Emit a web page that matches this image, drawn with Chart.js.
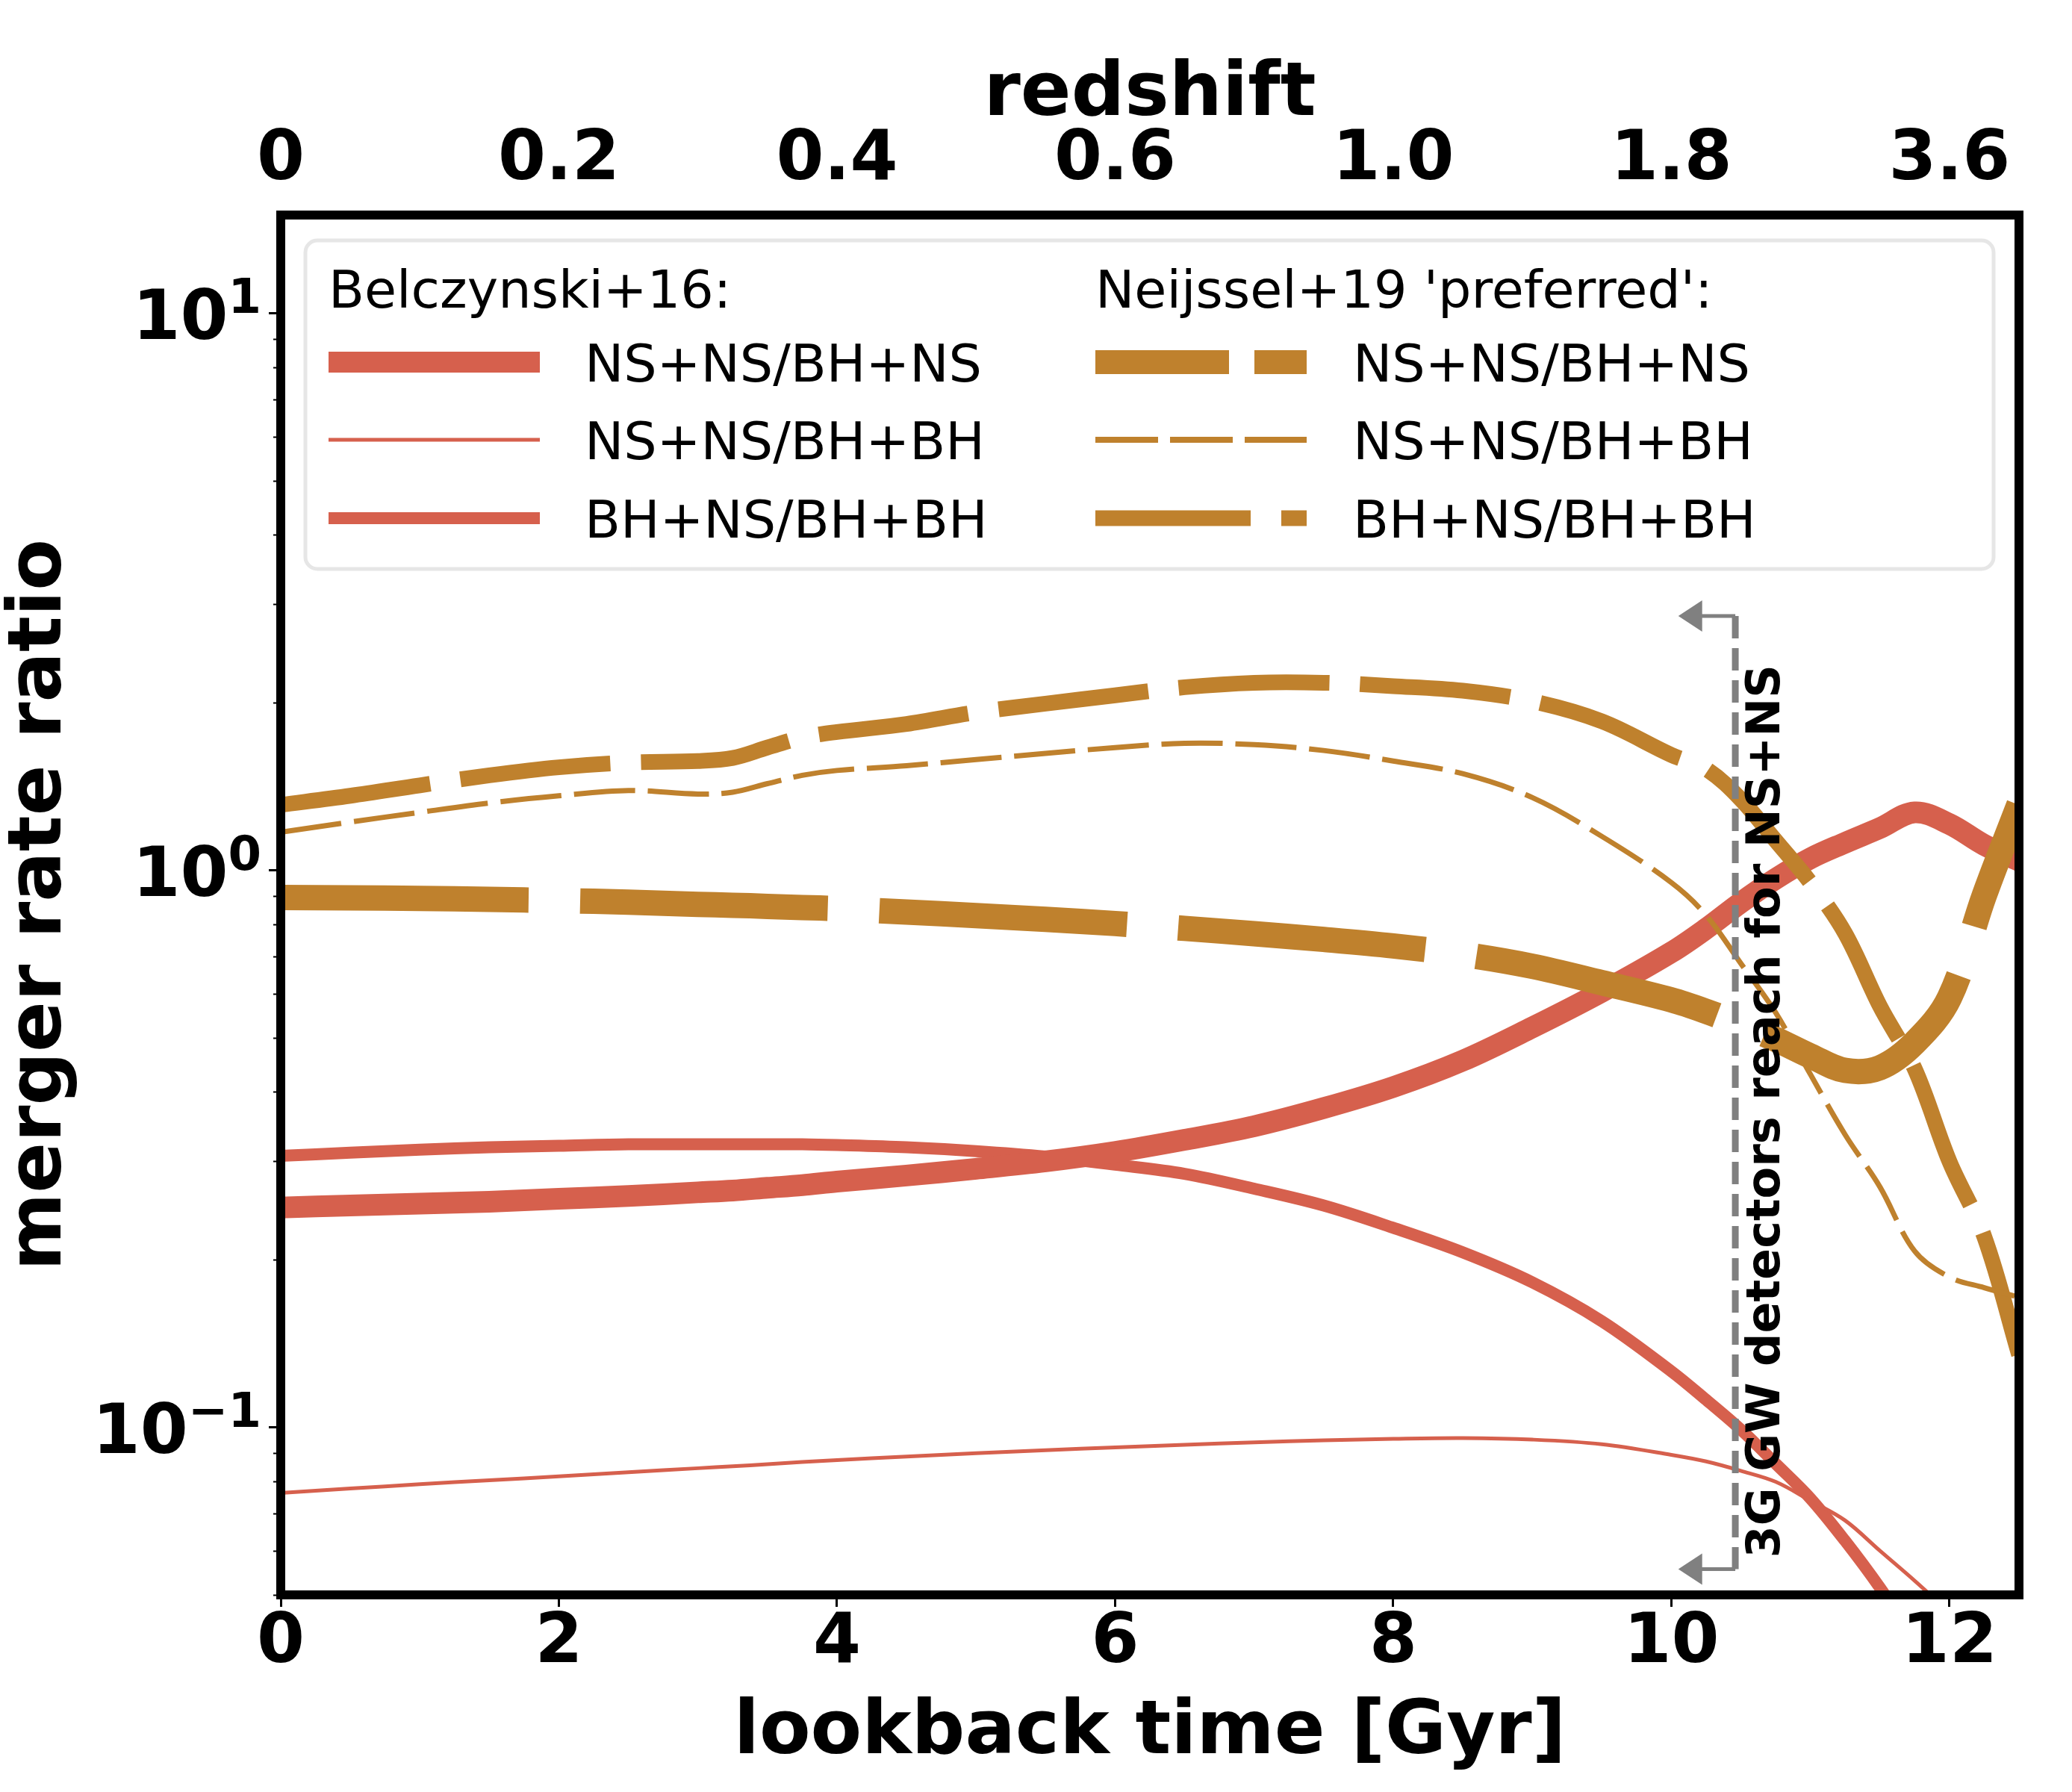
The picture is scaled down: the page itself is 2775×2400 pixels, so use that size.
<!DOCTYPE html>
<html>
<head>
<meta charset="utf-8">
<script src="https://cdn.jsdelivr.net/npm/chart.js@4.4.1/dist/chart.umd.min.js"></script>
<style>
  html, body { margin: 0; padding: 0; background: #fff; }
  #wrap { width: 2775px; height: 2400px; }
</style>
</head>
<body>
<div id="wrap"><canvas id="chart" width="2775" height="2400"></canvas></div>
<script>
// lookback time [Gyr]
const lookback = [0, 0.5, 1, 1.5, 2, 2.5, 3, 3.25, 3.5, 3.75, 4, 4.5, 5, 5.5, 6, 6.5, 7, 7.5, 8, 8.5, 9, 9.5, 10,
  10.25, 10.5, 10.75, 11, 11.25, 11.5, 11.75, 12, 12.25, 12.5];

// Belczynski+16 ratios
const belcNsnsBhns = [0.248, 0.250, 0.252, 0.254, 0.257, 0.260, 0.264, 0.266, 0.269, 0.272, 0.276, 0.283, 0.291, 0.300,
  0.312, 0.328, 0.347, 0.374, 0.408, 0.455, 0.522, 0.605, 0.712, 0.785, 0.875, 0.965, 1.05, 1.12, 1.19, 1.27, 1.21, 1.11, 1.04];
const belcNsnsBhbh = [0.0762, 0.0776, 0.0790, 0.0803, 0.0816, 0.0830, 0.0844, 0.0851, 0.0858, 0.0866, 0.0873, 0.0886,
  0.0898, 0.0909, 0.0920, 0.0930, 0.0939, 0.0947, 0.0953, 0.0956, 0.0950, 0.0932, 0.0892, 0.0868, 0.0835, 0.0798,
  0.0738, 0.0680, 0.0600, 0.0530, 0.0465, null, null];
const belcBhnsBhbh = [0.307, 0.311, 0.315, 0.318, 0.320, 0.322, 0.322, 0.322, 0.322, 0.322, 0.321, 0.318, 0.313, 0.306,
  0.296, 0.285, 0.268, 0.250, 0.228, 0.206, 0.182, 0.155, 0.126, 0.112, 0.099, 0.086, 0.0745, 0.0625, 0.0515, 0.0415,
  null, null, null];

// Neijssel+19 'preferred' ratios
const neijNsnsBhns = [0.893, 0.892, 0.890, 0.886, 0.882, 0.876, 0.868, 0.865, 0.861, 0.857, 0.853, 0.841, 0.829, 0.816,
  0.802, 0.786, 0.769, 0.751, 0.731, 0.706, 0.672, 0.628, 0.585, 0.558, 0.528, 0.497, 0.464, 0.437, 0.442, 0.490,
  0.590, 0.90, 1.31];
const neijNsnsBhbh = [1.17, 1.22, 1.27, 1.32, 1.36, 1.39, 1.37, 1.38, 1.43, 1.48, 1.51, 1.54, 1.58, 1.62, 1.66, 1.69,
  1.68, 1.64, 1.57, 1.49, 1.35, 1.15, 0.95, 0.83, 0.68, 0.555, 0.43, 0.335, 0.27, 0.207, 0.186, 0.178, 0.171];
const neijBhnsBhbh = [1.31, 1.36, 1.42, 1.48, 1.53, 1.56, 1.57, 1.59, 1.66, 1.73, 1.77, 1.83, 1.92, 1.99, 2.06, 2.13,
  2.17, 2.17, 2.14, 2.10, 2.01, 1.85, 1.61, 1.52, 1.34, 1.13, 0.95, 0.77, 0.57, 0.44, 0.30, 0.22, 0.135];

// axis ticks
const bottomTicks = [0, 2, 4, 6, 8, 10, 12];
const redshiftLabels = ['0', '0.2', '0.4', '0.6', '1.0', '1.8', '3.6'];
const yDecades = [0.1, 1, 10];

const RED = '#d6604d';
const GOLD = '#bf812d';
const FONT = '"DejaVu Sans"';

// 3G detector reach marker (lookback time, ratio)
const reachTime = 10.46;
const reachArrowTip = 10.05;
const reachTop = 2.86;
const reachBottom = 0.0556;
const reachText = '3G GW detectors reach for NS+NS';

const legendCols = [
  { title: 'Belczynski+16:', rows: [
    { label: 'NS+NS/BH+NS', color: RED, width: 28, dash: [] },
    { label: 'NS+NS/BH+BH', color: RED, width: 5, dash: [] },
    { label: 'BH+NS/BH+BH', color: RED, width: 16, dash: [] }
  ]},
  { title: "Neijssel+19 'preferred':", rows: [
    { label: 'NS+NS/BH+NS', color: GOLD, width: 32, dash: [179, 34] },
    { label: 'NS+NS/BH+BH', color: GOLD, width: 8, dash: [84, 16] },
    { label: 'BH+NS/BH+BH', color: GOLD, width: 21, dash: [208, 41, 34, 41] }
  ]}
];

function pts(vals) {
  return lookback.map((x, i) => ({ x: x, y: vals[i] }));
}

function line(label, vals, color, width, dash, order) {
  return {
    label: label,
    data: pts(vals),
    borderColor: color,
    borderWidth: width,
    borderDash: dash,
    borderCapStyle: 'butt',
    borderJoinStyle: 'round',
    pointRadius: 0,
    tension: 0.35,
    fill: false,
    clip: 0,
    order: order,
    xAxisID: 'x',
    yAxisID: 'y'
  };
}

const datasets = [
  line('Neijssel NS+NS/BH+NS', neijNsnsBhns, GOLD, 34, [332, 69], 0),
  line('Neijssel NS+NS/BH+BH', neijNsnsBhbh, GOLD, 7, [82, 17], 0),
  line('Neijssel BH+NS/BH+BH', neijBhnsBhbh, GOLD, 21, [202, 41], 0),
  line('Belczynski NS+NS/BH+NS', belcNsnsBhns, RED, 29, [], 1),
  line('Belczynski NS+NS/BH+BH', belcNsnsBhbh, RED, 5, [], 1),
  line('Belczynski BH+NS/BH+BH', belcBhnsBhbh, RED, 16, [], 1)
];

const decor = {
  id: 'decor',
  afterDatasetsDraw(chart) {
    const { ctx, scales } = chart;
    const xs = scales.x, ys = scales.y;

    // detector reach marker
    const px = xs.getPixelForValue(reachTime);
    const tip = xs.getPixelForValue(reachArrowTip);
    const yTop = ys.getPixelForValue(reachTop);
    const yBot = ys.getPixelForValue(reachBottom);
    ctx.save();
    ctx.strokeStyle = '#808080';
    ctx.fillStyle = '#808080';
    ctx.lineWidth = 9;
    ctx.setLineDash([30, 13]);
    ctx.beginPath();
    ctx.moveTo(px, yTop);
    ctx.lineTo(px, yBot);
    ctx.stroke();
    ctx.setLineDash([]);
    ctx.lineWidth = 5;
    [yTop, yBot].forEach(yy => {
      ctx.beginPath();
      ctx.moveTo(px, yy);
      ctx.lineTo(tip + 28, yy);
      ctx.stroke();
      ctx.beginPath();
      ctx.moveTo(tip, yy);
      ctx.lineTo(tip + 32, yy - 21);
      ctx.lineTo(tip + 32, yy + 21);
      ctx.closePath();
      ctx.fill();
    });
    ctx.fillStyle = '#000';
    ctx.font = 'bold 62px ' + FONT;
    ctx.textAlign = 'center';
    ctx.textBaseline = 'alphabetic';
    ctx.translate(px + 59, (yTop + yBot) / 2 + 25);
    ctx.rotate(-Math.PI / 2);
    ctx.fillText(reachText, 0, 0);
    ctx.restore();
  },
  afterDraw(chart) {
    const { ctx, chartArea: a, scales } = chart;
    const ys = scales.y;
    ctx.save();

    // frame
    ctx.strokeStyle = '#000';
    ctx.lineWidth = 12;
    ctx.strokeRect(a.left, a.top, a.right - a.left, a.bottom - a.top);

    // minor log ticks
    ctx.lineWidth = 2;
    for (let e = -2; e <= 1; e++) {
      for (let m = 2; m <= 9; m++) {
        const v = m * Math.pow(10, e);
        if (v < ys.min || v > ys.max) continue;
        const py = Math.round(ys.getPixelForValue(v)) + 0.5;
        ctx.beginPath();
        ctx.moveTo(a.left, py);
        ctx.lineTo(a.left - 10, py);
        ctx.stroke();
      }
    }

    // y tick labels 10^n
    ctx.fillStyle = '#000';
    ctx.textAlign = 'right';
    ctx.textBaseline = 'alphabetic';
    const labelRight = a.left - 26;
    yDecades.forEach(v => {
      const py = ys.getPixelForValue(v);
      const exp = Math.round(Math.log10(v));
      const sup = exp < 0 ? '\u2212' + (-exp) : String(exp);
      ctx.font = 'bold 64px ' + FONT;
      const sw = ctx.measureText(sup).width;
      ctx.fillText(sup, labelRight, py);
      ctx.font = 'bold 92px ' + FONT;
      ctx.fillText('10', labelRight - sw, py + 35);
    });

    // legend
    const lx = a.left + 33, ly = a.top + 34, lw = a.right - a.left - 67, lh = 440;
    ctx.beginPath();
    ctx.roundRect(lx, ly, lw, lh, 16);
    ctx.fillStyle = 'rgba(255,255,255,0.8)';
    ctx.fill();
    ctx.strokeStyle = '#e6e6e6';
    ctx.lineWidth = 5;
    ctx.stroke();

    const colX = [a.left + 64, a.left + 1091];
    const textX = [a.left + 407, a.left + 1436];
    const rowY = [a.top + 197, a.top + 301, a.top + 406];
    ctx.textAlign = 'left';
    ctx.font = '70px ' + FONT;
    legendCols.forEach((col, c) => {
      ctx.fillStyle = '#000';
      ctx.fillText(col.title, colX[c], a.top + 124);
      col.rows.forEach((r, i) => {
        ctx.strokeStyle = r.color;
        ctx.lineWidth = r.width;
        ctx.lineCap = 'butt';
        ctx.setLineDash(r.dash);
        ctx.beginPath();
        ctx.moveTo(colX[c], rowY[i]);
        ctx.lineTo(colX[c] + 283, rowY[i]);
        ctx.stroke();
        ctx.setLineDash([]);
        ctx.fillStyle = '#000';
        ctx.fillText(r.label, textX[c], rowY[i] + 26);
      });
    });
    ctx.restore();
  }
};

const tickFont = { family: FONT, size: 92, weight: 'bold', lineHeight: 1 };
const titleFont = { family: FONT, size: 100, weight: 'bold', lineHeight: 1 };
const tickGrid = { display: true, drawOnChartArea: false, drawTicks: true, tickLength: 16, tickWidth: 3, tickColor: '#000' };

new Chart(document.getElementById('chart'), {
  type: 'line',
  data: { datasets: datasets },
  options: {
    responsive: false,
    animation: false,
    devicePixelRatio: 1,
    layout: { padding: { left: 0, right: 71, top: 0, bottom: 0 } },
    plugins: { legend: { display: false }, tooltip: { enabled: false } },
    scales: {
      x: {
        type: 'linear', position: 'bottom', min: 0, max: 12.5,
        afterBuildTicks: s => { s.ticks = bottomTicks.map(v => ({ value: v })); },
        afterFit: s => { s.height = 264; },
        ticks: { font: tickFont, color: '#000', padding: 4, autoSkip: false, maxRotation: 0,
          callback: v => String(v) },
        grid: tickGrid,
        border: { display: false },
        title: { display: true, text: 'lookback time [Gyr]', color: '#000', font: titleFont, padding: { bottom: 28 } }
      },
      x2: {
        type: 'linear', position: 'top', min: 0, max: 12.5,
        afterBuildTicks: s => { s.ticks = bottomTicks.map(v => ({ value: v })); },
        afterFit: s => { s.height = 288; },
        ticks: { font: tickFont, color: '#000', padding: 26, autoSkip: false, maxRotation: 0,
          callback: (v, i) => redshiftLabels[i] },
        grid: { display: true, drawOnChartArea: false, drawTicks: false },
        border: { display: false },
        title: { display: true, text: 'redshift', color: '#000', font: titleFont, padding: { top: 78 } }
      },
      y: {
        type: 'logarithmic', position: 'left', min: 0.05, max: 15,
        afterBuildTicks: s => { s.ticks = yDecades.map(v => ({ value: v, major: true })); },
        afterFit: s => { s.width = 376; },
        ticks: { display: false },
        grid: tickGrid,
        border: { display: false },
        title: { display: true, text: 'merger rate ratio', color: '#000', font: titleFont, padding: { top: 5 } }
      }
    }
  },
  plugins: [decor]
});
</script>
</body>
</html>
